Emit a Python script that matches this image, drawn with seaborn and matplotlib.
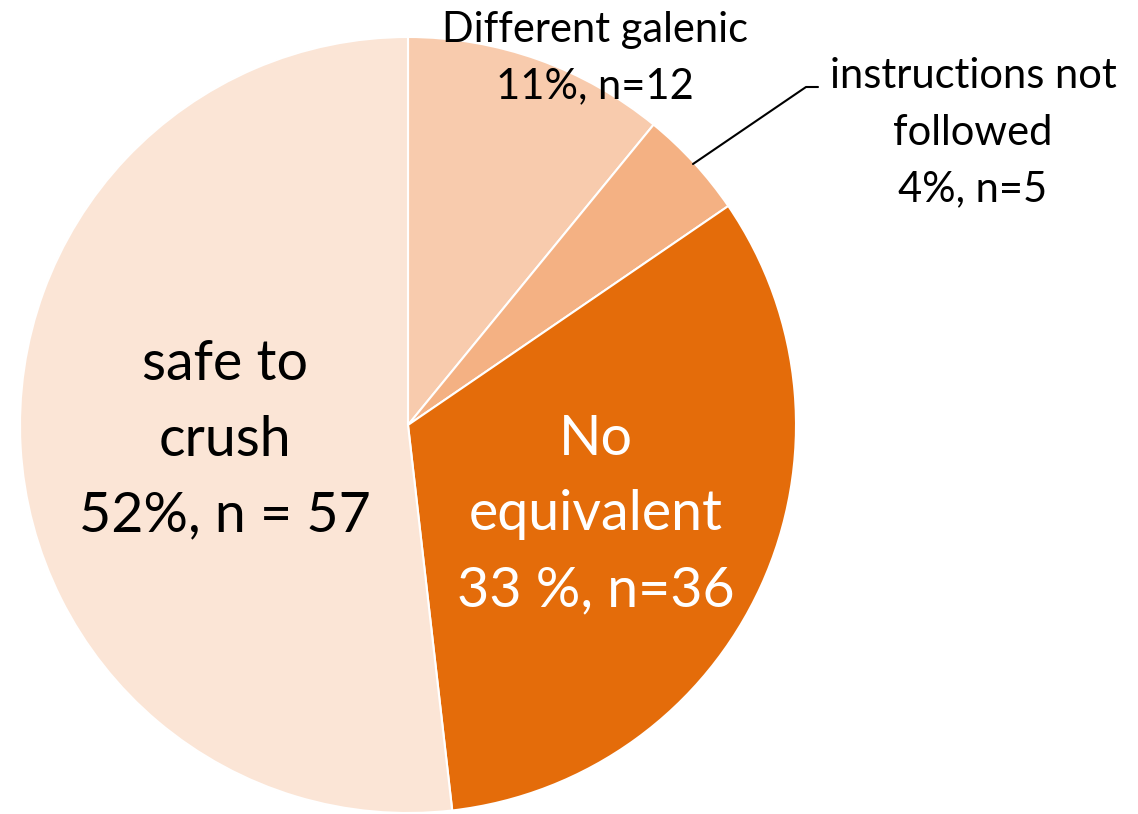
import seaborn as sns
import matplotlib.pyplot as plt

# data
categories = ["Different galenic", "instructions not followed", "No equivalent", "safe to crush"]
counts = [12, 5, 36, 57]
labels = ["Different galenic\n11%, n=12",
          "instructions not\nfollowed\n4%, n=5",
          "No\nequivalent\n33 %, n=36",
          "safe to\ncrush\n52%, n = 57"]
colors = ["#F8CBAD", "#F4B183", "#E46C0A", "#FBE5D6"]

sns.set_theme(style="white")
plt.rcParams["font.family"] = ["Lato", "DejaVu Sans"]

W, H = 1138, 814
cx, cy, r = 408, 425, 388
fig = plt.figure(figsize=(W / 100, H / 100), dpi=100)
ax = fig.add_axes([(cx - r) / W, (H - cy - r) / H, 2 * r / W, 2 * r / H])

ax.pie(counts, colors=colors, startangle=90, counterclock=False, radius=1,
       wedgeprops=dict(edgecolor="white", linewidth=1.5))
ax.set_xlim(-1, 1)
ax.set_ylim(-1, 1)
ax.set_aspect("equal")
ax.axis("off")


def px(x, y):
    # pixel position in the reference -> data coords
    return (x - cx) / r, (cy - y) / r


x, y = px(595, 58)
ax.text(x, y, labels[0], ha="center", va="center", fontsize=30, color="black",
        linespacing=1.6, clip_on=False)
x, y = px(973, 133)
ax.text(x, y, labels[1], ha="center", va="center", fontsize=30, color="black",
        linespacing=1.6, clip_on=False)
x, y = px(596, 515)
ax.text(x, y, labels[2], ha="center", va="center", fontsize=40, color="white",
        linespacing=1.6, clip_on=False)
x, y = px(225, 440)
ax.text(x, y, labels[3], ha="center", va="center", fontsize=40, color="black",
        linespacing=1.6, clip_on=False)

# leader line for the small slice
p0, p1, p2 = px(693, 164), px(806, 87), px(818, 87)
ax.plot([p0[0], p1[0], p2[0]], [p0[1], p1[1], p2[1]], color="black", lw=1.5,
        clip_on=False)

fig.savefig("out.png", dpi=100)
